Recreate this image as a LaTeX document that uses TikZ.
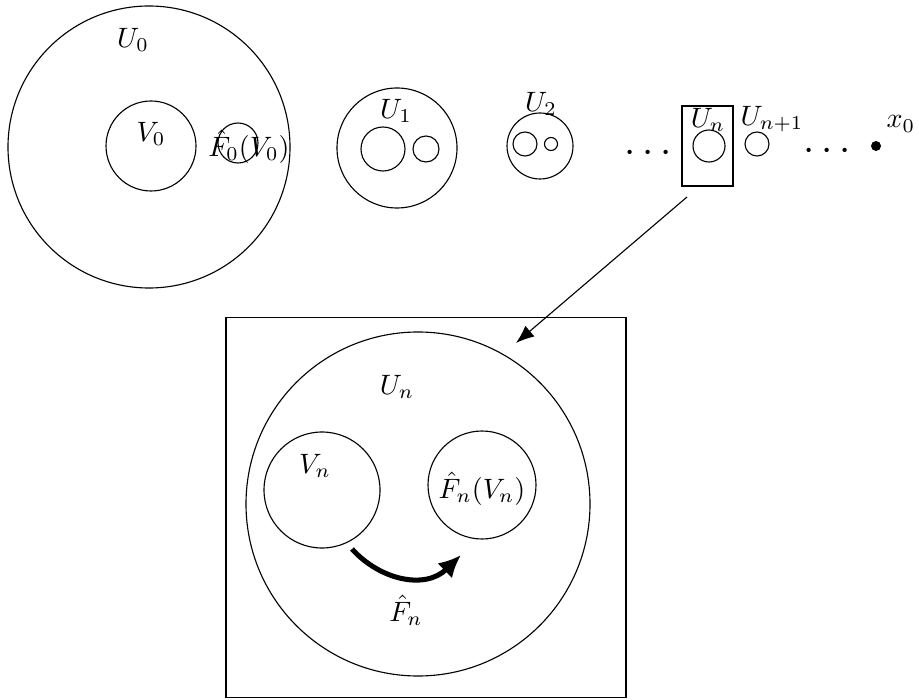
\documentclass[tikz,border=0pt]{standalone}
\usetikzlibrary{arrows.meta}
\begin{document}
\begin{tikzpicture}[x=0.357pt,y=-0.357pt,
  ring/.style={draw,line width=0.4pt},
  lab/.style={inner sep=0pt},
  dotsl/.style={inner sep=0pt,anchor=base,font=\Large}]
\useasboundingbox (0,0) rectangle (919,700);
% U0
\coordinate (cU0) at (149,147);
\draw[ring] (cU0) circle (141);
\coordinate (cV0) at (151,146);
\draw[ring] (cV0) circle (45);
\coordinate (cF0) at (238,143);
\draw[ring] (cF0) circle (20);
\node[lab] (lU0) at (133,40) {$U_0$};
\node[lab] (lV0) at (151,134) {$V_0$};
\node[lab] (lF0) at (249,147) {$\hat F_0(V_0)$};
% U1
\coordinate (cU1) at (397,148);
\draw[ring] (cU1) circle (60);
\draw[ring] (383,149) circle (22);
\draw[ring] (426,149) circle (13);
\node[lab] (lU1) at (396,111) {$U_1$};
% U2
\coordinate (cU2) at (540,146);
\draw[ring] (cU2) circle (33);
\draw[ring] (525,144) circle (12);
\draw[ring] (551,144) circle (6.5);
\node[lab] (lU2) at (541,104) {$U_2$};
% dots
\node[dotsl] (d1) at (648,163) {$\cdots$};
% Un box
\node[draw,line width=0.4pt,minimum width=51*0.357pt,minimum height=80*0.357pt,inner sep=0pt] (boxn) at (707.5,146) {};
\draw[ring] (709,146) circle (16);
\node[lab] (lUn) at (708,120) {$U_n$};
% Un+1
\draw[ring] (757,144) circle (12);
\node[lab] (lUn1) at (772,119) {$U_{n+1}$};
\node[dotsl] (d2) at (827,161) {$\cdots$};
\fill (876,146) circle (5);
\node[lab] (lx0) at (901,124) {$x_0$};
% arrow to zoom
\coordinate (aS) at (687,197);
\coordinate (aE) at (516,343);
\draw[line width=0.4pt,-{Latex[length=6.5pt,width=5pt]}] (aS) -- (aE);
% bottom box
\node[draw,line width=0.4pt,minimum width=400*0.357pt,minimum height=380*0.357pt,inner sep=0pt] (bigbox) at (426,507.5) {};
\coordinate (cUn) at (418,504);
\draw[ring] (cUn) circle (172);
\coordinate (cVn) at (322,490);
\draw[ring] (cVn) circle (58);
\coordinate (cFn) at (482,485);
\draw[ring] (cFn) circle (54);
\node[lab] (lUnb) at (397,387) {$U_n$};
\node[lab] (lVn) at (315,466) {$V_n$};
\node[lab] (lFn) at (482,489) {$\hat F_n(V_n)$};
\coordinate (fS) at (352,549);
\coordinate (fE) at (461,555);
\draw[line width=1.8pt,-{Latex[length=8pt,width=7.5pt]}] (fS) .. controls (380,580) and (425,590) .. (fE);
\node[lab] (lFhat) at (406,610) {$\hat F_n$};
\end{tikzpicture}
\end{document}
